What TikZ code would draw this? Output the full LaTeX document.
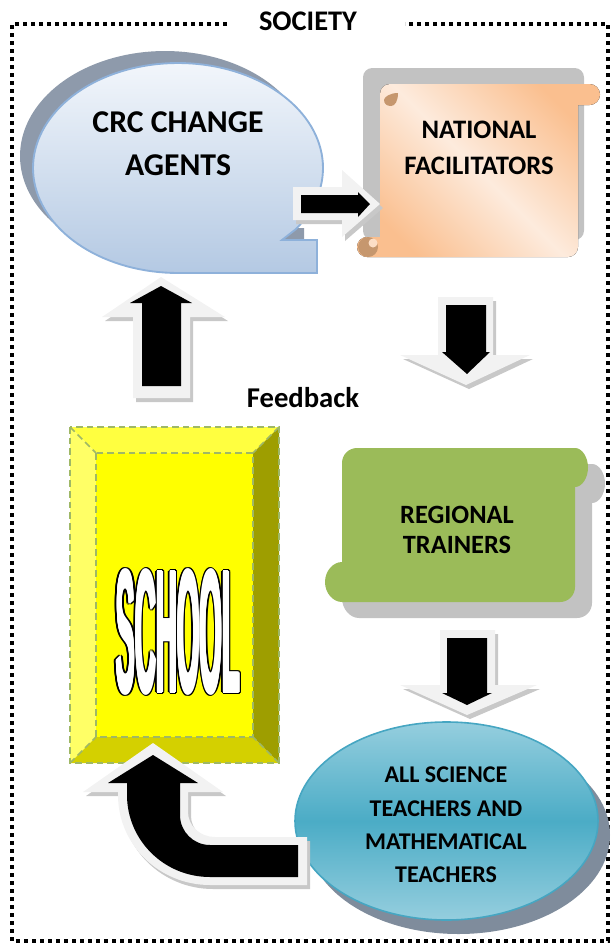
\documentclass[tikz,border=0pt]{standalone}
\usepackage{fontspec}
\usepackage{graphicx}
\setmainfont{Carlito}
\newfontfamily\schoolfont{Liberation Sans}
\usetikzlibrary{calc}
\definecolor{crcTop}{HTML}{F2F6FB}
\definecolor{crcBot}{HTML}{B4C9E3}
\definecolor{crcLine}{HTML}{8EB1DA}
\definecolor{crcShadow}{HTML}{8E9AAB}
\definecolor{peachDark}{HTML}{FABF8F}
\definecolor{peachLight}{HTML}{FDEBDD}
\definecolor{peachCurl}{HTML}{C6976E}
\definecolor{scrollShadow}{HTML}{C2C2C2}
\definecolor{greenFill}{HTML}{9BBB59}
\definecolor{tealMid}{HTML}{4BACC6}
\definecolor{tealLight}{HTML}{95CEDE}
\definecolor{tealLine}{HTML}{46A6C2}
\definecolor{ellShadow}{HTML}{7F8C9C}
\definecolor{arrowOut}{HTML}{F2F2F2}
\definecolor{arrowShadow}{HTML}{C8C8C8}
\definecolor{yTop}{HTML}{FFFF40}
\definecolor{yLeft}{HTML}{FFFF66}
\definecolor{yRight}{HTML}{9E9E00}
\definecolor{yBot}{HTML}{D4D000}
\definecolor{yMid}{HTML}{FFFF00}
\definecolor{yDash}{HTML}{9FB866}
\newcommand{\schoolword}{\resizebox{93pt}{92pt}{\schoolfont\bfseries SCHOOL}}
\begin{document}
\begin{tikzpicture}[x=0.75pt,y=-0.75pt,
  lbl/.style={align=center, text=black, inner sep=0pt},
  border/.style={line width=2.6pt, dash pattern=on 3pt off 3pt},
  schooldash/.style={draw=yDash, line width=1.1pt, dash pattern=on 5pt off 3pt},
  arrowouter/.style={fill=arrowOut},
  arrowshade/.style={fill=arrowShadow},
  arrowinner/.style={fill=black},
  wordart/.style={inner sep=0pt}]
\useasboundingbox (0,0) rectangle (611,943);

% society border
\draw[border] (227,24) -- (12,24) -- (12,941) -- (608,941) -- (608,24) -- (405,24);
\node[lbl, font=\fontsize{21.3}{25}\selectfont\bfseries] (society) at (308,21) {SOCIETY};

% CRC change agents callout
\def\crcpath{(178,273) -- plot[domain=90:395.7,samples=120] ({178+145*cos(\x)},{168+105*sin(\x)}) -- (282,240) -- (317,240) -- (317,273) -- cycle}
\begin{scope}[shift={(-13,-12)}]
  \fill[crcShadow] \crcpath;
\end{scope}
\filldraw[draw=crcLine, line width=1.4pt, top color=crcTop, bottom color=crcBot] \crcpath;
\node[lbl, font=\fontsize{23.8}{32.3}\selectfont\bfseries] (crc) at (178,143.5) {CRC CHANGE\\AGENTS};

% National facilitators scroll
\fill[scrollShadow, rounded corners=7pt] (363,68) rectangle (584,240);
\def\natpath{(390,84) -- (589.5,84) .. controls (595.3,84) and (600,88.7) .. (600,94.5) .. controls (600,100.3) and (595.3,105) .. (589.5,105) -- (578,105) -- (578,247) .. controls (578,252.5) and (573.5,257) .. (568,257) -- (367,257) .. controls (361.5,257) and (357,252.5) .. (357,247) .. controls (357,241.5) and (361.5,237) .. (367,237) -- (380,237) -- (380,94) .. controls (380,88.5) and (384.5,84) .. (390,84) -- cycle}
\fill[top color=peachDark, bottom color=peachDark, middle color=peachLight, shading angle=-45] \natpath;
\fill[peachCurl] (368,247) circle[radius=10];
\fill[peachLight!70!peachDark] (373,243) circle[radius=4.5];
\fill[peachCurl] (398,93) .. controls (390,93) and (384,97) .. (384,100) .. controls (384,104) and (387,106) .. (391,106) .. controls (395,106) and (398,101) .. (398,93) -- cycle;
\node[lbl, font=\fontsize{20}{27}\selectfont\bfseries] (natl) at (479,148) {NATIONAL\\FACILITATORS};

% right arrow CRC -> National
\fill[arrowshade] (296,191) -- (345,191) -- (345,174) -- (383,208) -- (345,241) -- (345,224) -- (296,224) -- cycle;
\fill[arrowouter] (293,187) -- (342,187) -- (342,170) -- (380,204) -- (342,237) -- (342,220) -- (293,220) -- cycle;
\fill[arrowinner] (301,195) -- (358,195) -- (358,192) -- (370,204) -- (358,217) -- (358,213) -- (301,213) -- cycle;

% down arrow National -> Regional
\fill[arrowshade] (441,301) -- (496,301) -- (496,359) -- (533,359) -- (469,389) -- (403,359) -- (441,359) -- cycle;
\fill[arrowouter] (438,297) -- (493,297) -- (493,355) -- (530,355) -- (466,385) -- (400,355) -- (438,355) -- cycle;
\fill[arrowinner] (446,305) -- (486,305) -- (486,352) -- (490,352) -- (467,374) -- (442,352) -- (446,352) -- cycle;

% up arrow School -> CRC
\fill[arrowshade] (164,281) -- (228,321) -- (193,321) -- (193,402) -- (136,402) -- (136,321) -- (105,321) -- cycle;
\fill[arrowouter] (161,277) -- (225,317) -- (190,317) -- (190,398) -- (133,398) -- (133,317) -- (102,317) -- cycle;
\fill[arrowinner] (161,286) -- (192,303) -- (181,303) -- (181,386) -- (142,386) -- (142,303) -- (130,303) -- cycle;

\node[lbl, font=\fontsize{21.5}{25}\selectfont\bfseries] (feedback) at (303,398) {Feedback};

% School bevel box
\fill[yTop] (70,427) -- (279,427) -- (253,453) -- (96,453) -- cycle;
\fill[yLeft] (70,427) -- (96,453) -- (96,737) -- (70,763) -- cycle;
\fill[yRight] (279,427) -- (279,763) -- (253,737) -- (253,453) -- cycle;
\fill[yBot] (70,763) -- (96,737) -- (253,737) -- (279,763) -- cycle;
\fill[yMid] (96,453) rectangle (253,737);
\draw[schooldash] (70,427) rectangle (279,763);
\draw[schooldash] (96,453) rectangle (253,737);
\draw[schooldash] (70,427) -- (96,453);
\draw[schooldash] (279,427) -- (253,453);
\draw[schooldash] (70,763) -- (96,737);
\draw[schooldash] (279,763) -- (253,737);
\foreach \a in {0,30,...,330} {
  \node[wordart, text=black] at ($(178,632)+(\a:2.4)$) {\schoolword};
}
\foreach \a in {0,60,...,300} {
  \node[wordart, text=white] at ($(178,632)+(\a:0.9)$) {\schoolword};
}
\node[wordart, text=white] (school) at (178,632) {\schoolword};

% Regional trainers scroll
\def\regpath{(357,448) -- (575,448) .. controls (582,448) and (588,457) .. (588,467.5) .. controls (588,478) and (582,487) .. (575,487) -- (575,587) .. controls (575,595.3) and (568.3,602) .. (560,602) -- (342,602) .. controls (333,602) and (325,593) .. (325,582) .. controls (325,571) and (333,562) .. (342,562) -- (342,463) .. controls (342,454.7) and (348.7,448) .. (357,448) -- cycle}
\begin{scope}[shift={(17,16)}]
  \fill[scrollShadow] \regpath;
\end{scope}
\fill[greenFill] \regpath;
\node[lbl, font=\fontsize{19.8}{22.5}\selectfont\bfseries] (regional) at (457,530) {REGIONAL\\TRAINERS};

% down arrow Regional -> Teachers
\fill[arrowshade] (443,634) -- (498,634) -- (498,689) -- (540,689) -- (470,719) -- (403,689) -- (443,689) -- cycle;
\fill[arrowouter] (440,630) -- (495,630) -- (495,685) -- (537,685) -- (467,715) -- (400,685) -- (440,685) -- cycle;
\fill[arrowinner] (447,638) -- (487,638) -- (487,693) -- (492,693) -- (467,705) -- (442,693) -- (447,693) -- cycle;

% Teachers ellipse
\fill[ellShadow] (458.5,835) ellipse[x radius=151.5, y radius=99];
\filldraw[draw=tealLine, line width=1.2pt, top color=tealLight, bottom color=tealLight, middle color=tealMid] (446.5,821) ellipse[x radius=151.5, y radius=99];
\node[lbl, font=\fontsize{18}{25}\selectfont\bfseries] (teachers) at (446,825) {ALL SCIENCE\\TEACHERS AND\\MATHEMATICAL\\TEACHERS};

% curved arrow Teachers -> School
\begin{scope}[shift={(3,4)}]
\fill[arrowshade] (307,837) -- (215,837) .. controls (200.1,837) and (188,825.8) .. (188,812) -- (188,792) -- (223,792) -- (153,743) -- (83,792) -- (118,792) -- (118,795) .. controls (118,844.7) and (159.2,885) .. (210,885) -- (307,885) -- cycle;
\end{scope}
\fill[arrowouter] (307,837) -- (215,837) .. controls (200.1,837) and (188,825.8) .. (188,812) -- (188,792) -- (223,792) -- (153,743) -- (83,792) -- (118,792) -- (118,795) .. controls (118,844.7) and (159.2,885) .. (210,885) -- (307,885) -- cycle;
\fill[arrowinner] (298,845) -- (210,845) .. controls (193.4,845) and (180,831.6) .. (180,815) -- (180,783) -- (198,783) -- (153,755) -- (108,783) -- (127,783) -- (127,795) .. controls (127,840.3) and (164.2,877) .. (210,877) -- (298,877) -- cycle;
\end{tikzpicture}
\end{document}
